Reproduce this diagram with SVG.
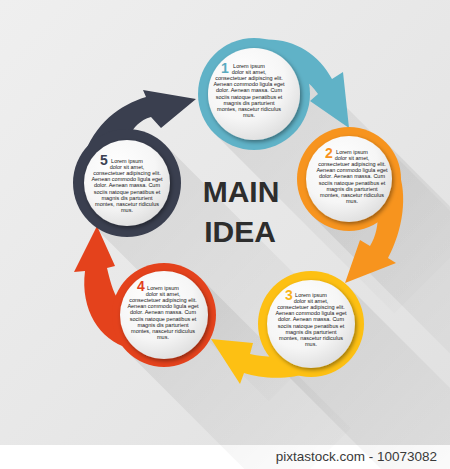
<svg xmlns="http://www.w3.org/2000/svg" width="450" height="469" viewBox="0 0 450 469">
<defs>
<style>
.body{font-family:"Liberation Sans",Arial,sans-serif;font-size:5.5px;fill:#161616;text-anchor:middle}
.num{font-family:"Liberation Sans",Arial,sans-serif;font-size:14px;font-weight:bold;text-anchor:middle}
.title{font-family:"Liberation Sans",Arial,sans-serif;font-size:30px;font-weight:bold;fill:#2d2d2d;text-anchor:middle}
.disk{fill:url(#diskGrad);filter:url(#ds)}
.shadow{fill:url(#shGrad)}
</style>
<linearGradient id="bg" x1="0" y1="0" x2="1" y2="1"><stop offset="0" stop-color="#efefef"/><stop offset="1" stop-color="#e0e0e0"/></linearGradient>
<radialGradient id="diskGrad" cx="0.38" cy="0.32" r="0.75"><stop offset="0" stop-color="#ffffff"/><stop offset="0.6" stop-color="#f6f6f6"/><stop offset="1" stop-color="#dcdcdc"/></radialGradient>
<linearGradient id="shGrad" x1="0" y1="0" x2="1" y2="1"><stop offset="0" stop-color="#000" stop-opacity="0.09"/><stop offset="1" stop-color="#000" stop-opacity="0"/></linearGradient>
<filter id="ds" x="-20%" y="-20%" width="140%" height="140%"><feDropShadow dx="1.5" dy="2" stdDeviation="2" flood-color="#000" flood-opacity="0.4"/></filter>
</defs>
<rect width="450" height="469" fill="url(#bg)"/>
<rect y="445" width="450" height="24" fill="#ffffff"/>
<g id="shadows">
<polygon class="shadow" points="293.6,54.4 473.6,234.4 394.4,313.6 214.4,133.6"/>
<polygon class="shadow" points="385.8,142.2 565.8,322.2 492.2,395.8 312.2,215.8"/>
<polygon class="shadow" points="348.5,286.5 498.5,436.5 423.5,511.5 273.5,361.5"/>
<polygon class="shadow" points="200.8,278.2 350.8,428.2 277.2,501.8 127.2,351.8"/>
<polygon class="shadow" points="165.2,144.8 345.2,324.8 268.8,401.2 88.8,221.2"/>
</g>
<g id="connectors">
<path fill="#60b2c7" d="M258 40 C290 36 318 52 332 79 L343 72 L349 128 L310 101 L318 94 C310 82 298 74 285 70 Z"/>
<path fill="#f7941e" d="M398 170 C408 195 403 230 388 258 L396 263 L345 283 L360 240 L370 246 C376 236 378 226 378 212 Z"/>
<path fill="#fdc013" d="M311 372 C290 380 262 379 244 373 L240 384 L211 339 L253 343 L250 354 C268 358 285 358 300 352 Z"/>
<path fill="#e4421c" d="M128 348 C100 340 80 310 85 271 L74 272 L97 226 L115 266 L107 268 C111 285 114 295 122 305 Z"/>
<path fill="#3a3f4f" d="M82 160 C95 122 120 105 146 97 L143 90 L196 99 L161 128 L151 117 C140 120 133 128 130 135 Z"/>
</g>
<g id="node1">
<circle cx="254" cy="94" r="56" fill="#60b2c7"/>
<circle class="disk" cx="254" cy="94" r="46"/>
<text class="num" x="225" y="73" fill="#5aaac0">1</text>
<text class="body"><tspan x="249" y="68">Lorem ipsum</tspan><tspan x="249" y="74.1">dolor sit amet,</tspan><tspan x="249" y="80.2">consectetuer adipiscing elit.</tspan><tspan x="249" y="86.3">Aenean commodo ligula eget</tspan><tspan x="249" y="92.4">dolor. Aenean massa. Cum</tspan><tspan x="249" y="98.5">sociis natoque penatibus et</tspan><tspan x="249" y="104.6">magnis dis parturient</tspan><tspan x="249" y="110.7">montes, nascetur ridiculus</tspan><tspan x="249" y="116.8">mus.</tspan></text>
</g>
<g id="node2">
<circle cx="349" cy="179" r="52" fill="#f7941e"/>
<circle class="disk" cx="349" cy="179" r="43"/>
<text class="num" x="329" y="158" fill="#f7931e">2</text>
<text class="body"><tspan x="352" y="154">Lorem ipsum</tspan><tspan x="352" y="160.1">dolor sit amet,</tspan><tspan x="352" y="166.2">consectetuer adipiscing elit.</tspan><tspan x="352" y="172.3">Aenean commodo ligula eget</tspan><tspan x="352" y="178.4">dolor. Aenean massa. Cum</tspan><tspan x="352" y="184.5">sociis natoque penatibus et</tspan><tspan x="352" y="190.6">magnis dis parturient</tspan><tspan x="352" y="196.7">montes, nascetur ridiculus</tspan><tspan x="352" y="202.8">mus.</tspan></text>
</g>
<g id="node3">
<circle cx="311" cy="324" r="53" fill="#fdc013"/>
<circle class="disk" cx="311" cy="324" r="44"/>
<text class="num" x="289" y="300" fill="#f8b41a">3</text>
<text class="body"><tspan x="311" y="297">Lorem ipsum</tspan><tspan x="311" y="303.1">dolor sit amet,</tspan><tspan x="311" y="309.2">consectetuer adipiscing elit.</tspan><tspan x="311" y="315.3">Aenean commodo ligula eget</tspan><tspan x="311" y="321.4">dolor. Aenean massa. Cum</tspan><tspan x="311" y="327.5">sociis natoque penatibus et</tspan><tspan x="311" y="333.6">magnis dis parturient</tspan><tspan x="311" y="339.7">montes, nascetur ridiculus</tspan><tspan x="311" y="345.8">mus.</tspan></text>
</g>
<g id="node4">
<circle cx="164" cy="315" r="52" fill="#e4421c"/>
<circle class="disk" cx="164" cy="315" r="44"/>
<text class="num" x="141" y="291" fill="#e2401c">4</text>
<text class="body"><tspan x="163" y="290">Lorem ipsum</tspan><tspan x="163" y="296.1">dolor sit amet,</tspan><tspan x="163" y="302.2">consectetuer adipiscing elit.</tspan><tspan x="163" y="308.3">Aenean commodo ligula eget</tspan><tspan x="163" y="314.4">dolor. Aenean massa. Cum</tspan><tspan x="163" y="320.5">sociis natoque penatibus et</tspan><tspan x="163" y="326.6">magnis dis parturient</tspan><tspan x="163" y="332.7">montes, nascetur ridiculus</tspan><tspan x="163" y="338.8">mus.</tspan></text>
</g>
<g id="node5">
<circle cx="127" cy="183" r="54" fill="#3a3f4f"/>
<circle class="disk" cx="127" cy="183" r="43"/>
<text class="num" x="104" y="165" fill="#3b4152">5</text>
<text class="body"><tspan x="127" y="163">Lorem ipsum</tspan><tspan x="127" y="169.1">dolor sit amet,</tspan><tspan x="127" y="175.2">consectetuer adipiscing elit.</tspan><tspan x="127" y="181.3">Aenean commodo ligula eget</tspan><tspan x="127" y="187.4">dolor. Aenean massa. Cum</tspan><tspan x="127" y="193.5">sociis natoque penatibus et</tspan><tspan x="127" y="199.6">magnis dis parturient</tspan><tspan x="127" y="205.7">montes, nascetur ridiculus</tspan><tspan x="127" y="211.8">mus.</tspan></text>
</g>
<g id="main">
<text class="title" x="241" y="202">MAIN</text>
<text class="title" x="240" y="242">IDEA</text>
</g>
<text x="437" y="461" font-family="Liberation Sans,Arial,sans-serif" font-size="13.5" fill="#3a3a3a" text-anchor="end">pixtastock.com - 10073082</text>
</svg>
